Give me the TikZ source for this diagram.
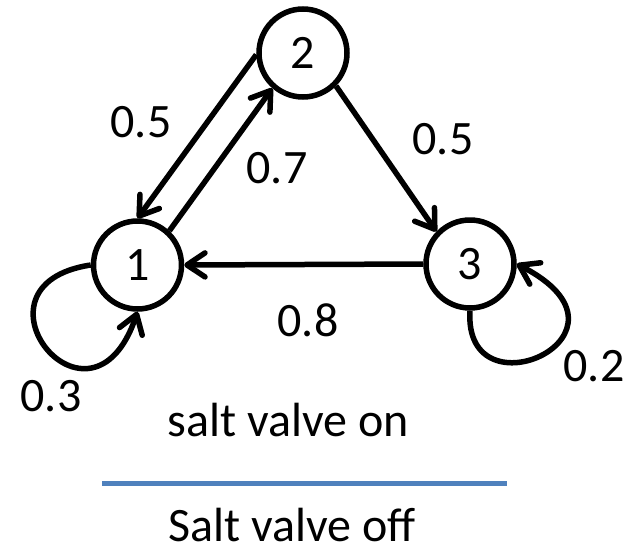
\documentclass[tikz,border=0pt]{standalone}
\usepackage{fontspec}
\setmainfont{Carlito}
\usetikzlibrary{arrows.meta}
\definecolor{valveblue}{HTML}{4F81BD}
\begin{document}
\begin{tikzpicture}[x=1pt,y=-1pt,
  state/.style={circle,draw,line width=5.5pt,minimum size=88pt,inner sep=0pt,font=\fontsize{48}{58}\selectfont},
  edge/.style={line width=5.5pt,-{Straight Barb[length=18pt,width=24pt,round]}},
  lbl/.style={font=\fontsize{48}{58}\selectfont,inner sep=0pt}]
\useasboundingbox (0,0) rectangle (630,552);
\node[state] (n1) at (137.5,265) {1};
\node[state] (n2) at (303,53) {2};
\node[state] (n3) at (470,264) {3};
\draw[edge] (n2.182) -- (n1.north);
\draw[edge] (n1.47) -- (n2.229);
\draw[edge] (n2.-45) -- (n3.136);
\draw[edge] (n3.west) -- (n1.east);
\draw[edge] (n1.west) .. controls +(-133,20) and +(-47,139) .. (n1.south);
\draw[edge] (n3.south) .. controls +(-7,109) and +(137,70) .. (n3.east);
\node[lbl] (l21) at (141,122) {0.5};
\node[lbl] (l12) at (277,168) {0.7};
\node[lbl] (l23) at (443,139) {0.5};
\node[lbl] (l31) at (308,320) {0.8};
\node[lbl] (l11) at (51,396) {0.3};
\node[lbl] (l33) at (594,366) {0.2};
\node[lbl,anchor=base] (on) at (288,436) {salt valve on};
\coordinate (sepA) at (102,483);
\coordinate (sepB) at (507,483);
\draw[line width=5pt,valveblue] (sepA) -- (sepB);
\node[lbl,anchor=base] (off) at (292,541) {Salt valve off};
\end{tikzpicture}
\end{document}
